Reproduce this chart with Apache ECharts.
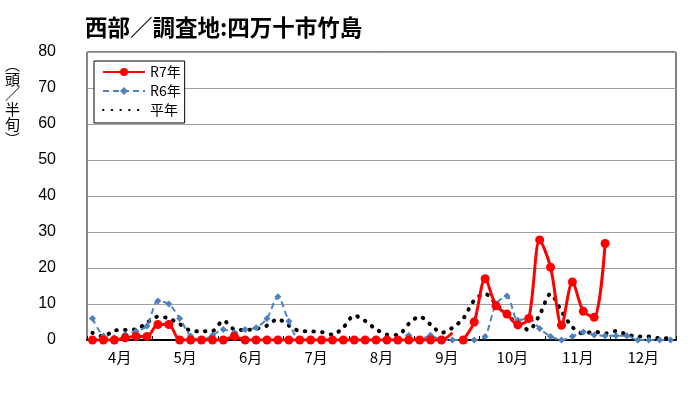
<!DOCTYPE html>
<html>
<head>
<meta charset="utf-8">
<script src="https://cdn.jsdelivr.net/npm/echarts@6/dist/echarts.min.js"></script>
<style>
html,body{margin:0;padding:0;background:#fff;}
#chart{width:700px;height:393px;}
</style>
</head>
<body>
<div id="chart"></div>
<script>
// ---- data ----
var titleText = '西部／調査地:四万十市竹島';
var yAxisName = ['︵', '頭', '／', '半', '旬', '︶'];
var months = ['4月', '5月', '6月', '7月', '8月', '9月', '10月', '11月', '12月'];
var periodsPerMonth = 6;
var yTicks = [0, 10, 20, 30, 40, 50, 60, 70, 80];

var r7 = [0, 0, 0, 0.6, 1, 1,
          4.3, 4.3, 0, 0, 0, 0,
          0, 1, 0, 0, 0, 0,
          0, 0, 0, 0, 0, 0,
          0, 0, 0, 0, 0, 0,
          0, 0, 0, 2, 0, 5,
          17, 9.5, 7.2, 4.2, 6, 27.8,
          20.2, 4.1, 16.1, 8, 6.3, 26.8,
          null, null, null, null, null, null];
var r7BreakIndex = 34;       // line is not joined between index 33 and 34
var r7NoMarker = [33];

var r6 = [6, 1.1, 0.6, 1.5, 2.4, 3.9,
          10.8, 10, 6, 1.1, 0, 1.3,
          2.9, 2.1, 2.9, 3.4, 6, 12,
          5.2, 0, 0, 0, 0, 0,
          0, 0, 0, 0, 0, 1.3,
          0, 1.3, 0, 0, 0, 0,
          1, 10, 12.2, 5.5, 6, 3.2,
          1, 0, 1, 2.2, 1.4, 1.2,
          1.2, 1.2, 0, 0, 0, 0];

var avg = [2, 1, 2.6, 2.8, 3, 4.8,
           6.5, 6, 4.4, 2.6, 2.4, 2.5,
           5.4, 3, 2.8, 3.1, 4, 5.8,
           4, 2.5, 2.4, 2.2, 1.5, 3.5,
           6.8, 5.3, 3, 1.5, 1.4, 4.5,
           6.5, 4.3, 2, 3.4, 6, 11,
           12.8, 10, 7, 4.5, 2.8, 7,
           12.8, 8, 3.6, 1.8, 2.3, 1.8,
           2.5, 1.5, 1, 1, 0.5, 0.5];

// ---- build ----
var periods = [];
for (var m = 0; m < months.length; m++) {
  for (var k = 0; k < periodsPerMonth; k++) periods.push(months[m] + (k + 1));
}
function r7Part(first) {
  return r7.map(function (v, i) {
    var inPart = first ? i < r7BreakIndex : i >= r7BreakIndex;
    if (!inPart || v === null) return null;
    if (r7NoMarker.indexOf(i) >= 0) return { value: v, symbol: 'none' };
    return v;
  });
}

var chart = echarts.init(document.getElementById('chart'), null, { renderer: 'canvas' });
var fontJP = '"Noto Sans CJK JP", "Noto Sans", sans-serif';
var redStyle = {
  type: 'line', name: 'R7年', xAxisIndex: 0, yAxisIndex: 0,
  smooth: 0.3, symbol: 'circle', symbolSize: 9, showSymbol: true, showAllSymbol: true,
  lineStyle: { color: '#FF0000', width: 3 },
  itemStyle: { color: '#FF0000' }, z: 5
};
var option = {
  backgroundColor: '#ffffff',
  animation: false,
  title: {
    text: titleText, left: 80, top: 11,
    textStyle: { fontFamily: fontJP, fontSize: 22.5, fontWeight: 'bold', color: '#000' }
  },
  graphic: [{
    type: 'text', left: 5, top: 57,
    style: { text: yAxisName.join('\n'), font: '15px ' + fontJP, lineHeight: 15, fill: '#000', align: 'center' }
  }],
  legend: {
    data: ['R7年', 'R6年', { name: '平年', itemStyle: { opacity: 0 } }],
    orient: 'vertical', left: 94, top: 61,
    padding: [4, 4, 6, 8], itemGap: 5,
    itemWidth: 42, itemHeight: 10,
    backgroundColor: '#fff', borderColor: '#000', borderWidth: 1,
    textStyle: { fontFamily: fontJP, fontSize: 14, color: '#000' }
  },
  grid: {
    left: 87, right: 24, top: 52, bottom: 53,
    show: true, borderColor: '#000', borderWidth: 1, backgroundColor: 'transparent'
  },
  xAxis: [{
    type: 'category', data: periods, boundaryGap: true, show: false
  }, {
    type: 'category', data: months, boundaryGap: true, position: 'bottom',
    axisLine: { lineStyle: { color: '#000', width: 2 } },
    axisTick: { show: true, inside: true, length: 4, interval: 0, lineStyle: { color: '#000', width: 1 } },
    axisLabel: { fontFamily: fontJP, fontSize: 15, color: '#000', margin: 10, interval: 0 },
    splitLine: { show: false }
  }],
  yAxis: {
    type: 'value', min: yTicks[0], max: yTicks[yTicks.length - 1], interval: yTicks[1] - yTicks[0],
    axisLine: { show: true, lineStyle: { color: '#888', width: 1 } },
    axisTick: { show: false },
    axisLabel: { fontFamily: '"Liberation Sans", Arial, sans-serif', fontSize: 16, color: '#000', margin: 31 },
    splitLine: { show: true, lineStyle: { color: '#A0A0A0', width: 1 } }
  },
  series: [
    Object.assign({}, redStyle, { data: r7Part(true) }),
    {
      type: 'line', name: 'R6年', data: r6, smooth: 0.3,
      symbol: 'diamond', symbolSize: 7, showAllSymbol: true,
      lineStyle: { color: '#4F81BD', width: 2, type: [6, 4] },
      itemStyle: { color: '#4F81BD' }, z: 3
    },
    {
      type: 'line', name: '平年', data: avg, smooth: 0.3,
      symbol: 'none', showSymbol: false,
      lineStyle: { color: '#000', width: 4, type: [0.5, 8.2], cap: 'round' },
      itemStyle: { color: '#000' }, z: 2
    },
    Object.assign({}, redStyle, { data: r7Part(false) })
  ]
};
chart.setOption(option);
</script>
</body>
</html>
